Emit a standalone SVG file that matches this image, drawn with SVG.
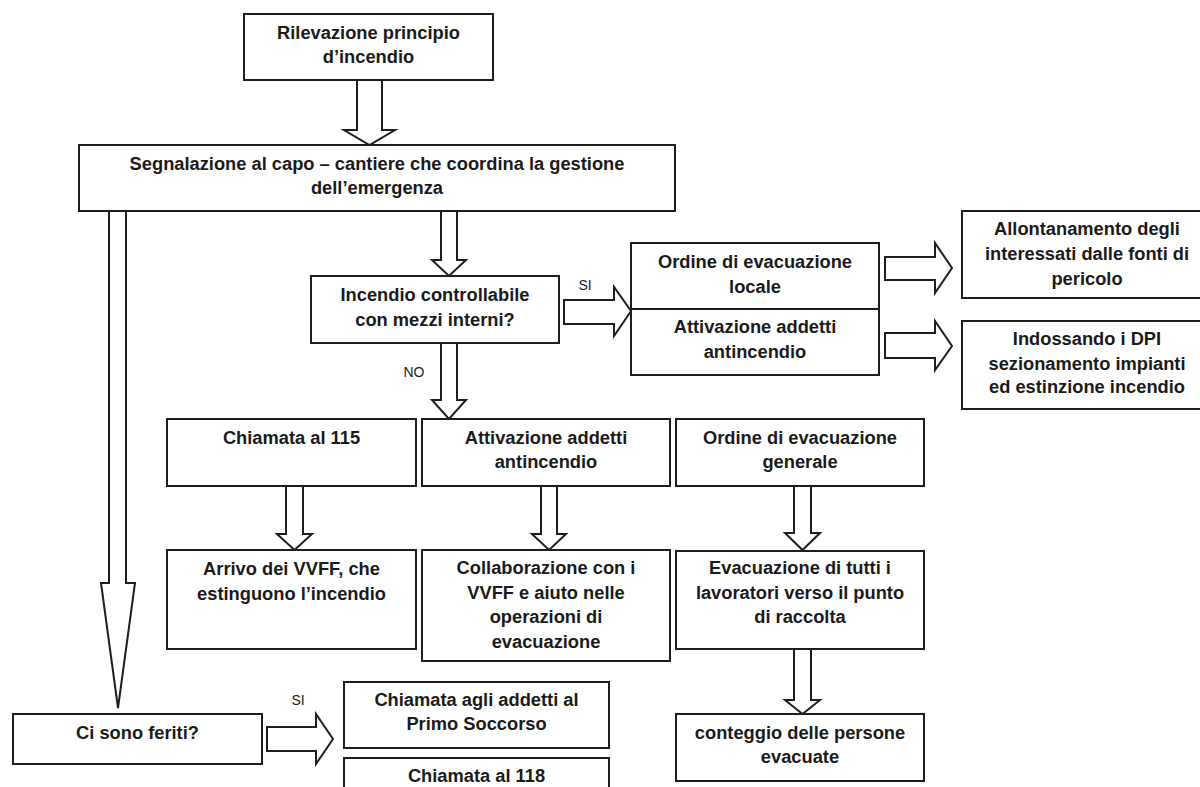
<svg xmlns="http://www.w3.org/2000/svg" width="1200" height="787" viewBox="0 0 1200 787">
<style>
.box{fill:#fff;stroke:#1e1e1e;stroke-width:2}
.arr{fill:#fff;stroke:#1e1e1e;stroke-width:2;stroke-linejoin:miter}
.t{font-family:"Liberation Sans",Arial,sans-serif;font-weight:bold;font-size:18.3px;fill:#1a1a1a;text-anchor:middle}
.lbl{font-family:"Liberation Sans",Arial,sans-serif;font-size:14px;fill:#1a1a1a;text-anchor:middle}
</style>
<rect width="1200" height="787" fill="#fff"/>
<g id="connectors">
<path class="arr" d="M357,80 L357,130 L344,130 L369.5,145 L395,130 L382,130 L382,80 Z"/>
<path class="arr" d="M109,211 L109,583 L101,583 L118,708 L135,583 L126,583 L126,211 Z"/>
<path class="arr" d="M441,211 L441,260 L432,260 L449,276 L466,260 L457,260 L457,211 Z"/>
<path class="arr" d="M441,343 L441,400 L432,400 L449,419 L466,400 L457,400 L457,343 Z"/>
<path class="arr" d="M286,486 L286,534 L277,534 L294.5,550 L312,534 L303,534 L303,486 Z"/>
<path class="arr" d="M541,486 L541,534 L532,534 L549,550 L566,534 L557,534 L557,486 Z"/>
<path class="arr" d="M794,486 L794,533 L785,533 L802.5,550 L820,533 L811,533 L811,486 Z"/>
<path class="arr" d="M794,649 L794,700 L785,700 L802.5,714 L820,700 L811,700 L811,649 Z"/>
<path class="arr" d="M564,300 L614,300 L614,287 L631,311 L614,336 L614,324 L564,324 Z"/>
<path class="arr" d="M885,257 L935,257 L935,243 L952,268 L935,293 L935,280 L885,280 Z"/>
<path class="arr" d="M885,333 L935,333 L935,321 L952,346 L935,370 L935,358 L885,358 Z"/>
<path class="arr" d="M267,727 L316,727 L316,714 L333,739 L316,764 L316,751 L267,751 Z"/>
<text class="lbl" x="585" y="290">SI</text>
<text class="lbl" x="414" y="377">NO</text>
<text class="lbl" x="298" y="705">SI</text>
</g>
<g id="n1">
<rect class="box" x="244" y="14" width="249" height="66"/>
<text class="t" x="368.5" y="39">Rilevazione principio</text>
<text class="t" x="368.5" y="63">d’incendio</text>
</g>
<g id="n2">
<rect class="box" x="79" y="145" width="596" height="66"/>
<text class="t" x="377" y="170">Segnalazione al capo – cantiere che coordina la gestione</text>
<text class="t" x="377" y="194">dell’emergenza</text>
</g>
<g id="n3">
<rect class="box" x="311" y="276" width="248" height="67"/>
<text class="t" x="435" y="301">Incendio controllabile</text>
<text class="t" x="435" y="326">con mezzi interni?</text>
</g>
<g id="n4">
<rect class="box" x="631" y="243" width="248" height="66"/>
<text class="t" x="755" y="268">Ordine di evacuazione</text>
<text class="t" x="755" y="293">locale</text>
</g>
<g id="n5">
<rect class="box" x="631" y="309" width="248" height="66"/>
<text class="t" x="755" y="333">Attivazione addetti</text>
<text class="t" x="755" y="358">antincendio</text>
</g>
<g id="n6">
<rect class="box" x="962" y="211" width="250" height="87"/>
<text class="t" x="1087" y="235">Allontanamento degli</text>
<text class="t" x="1087" y="260">interessati dalle fonti di</text>
<text class="t" x="1087" y="285">pericolo</text>
</g>
<g id="n7">
<rect class="box" x="962" y="321" width="250" height="88"/>
<text class="t" x="1087" y="345">Indossando i DPI</text>
<text class="t" x="1087" y="370">sezionamento impianti</text>
<text class="t" x="1087" y="393">ed estinzione incendio</text>
</g>
<g id="n8">
<rect class="box" x="167" y="419" width="249" height="67"/>
<text class="t" x="291.5" y="444">Chiamata al 115</text>
</g>
<g id="n9">
<rect class="box" x="422" y="419" width="248" height="67"/>
<text class="t" x="546" y="444">Attivazione addetti</text>
<text class="t" x="546" y="468">antincendio</text>
</g>
<g id="n10">
<rect class="box" x="676" y="419" width="248" height="67"/>
<text class="t" x="800" y="444">Ordine di evacuazione</text>
<text class="t" x="800" y="468">generale</text>
</g>
<g id="n11">
<rect class="box" x="167" y="550" width="249" height="99"/>
<text class="t" x="291.5" y="575">Arrivo dei VVFF, che</text>
<text class="t" x="291.5" y="600">estinguono l’incendio</text>
</g>
<g id="n12">
<rect class="box" x="422" y="550" width="248" height="111"/>
<text class="t" x="546" y="574">Collaborazione con i</text>
<text class="t" x="546" y="599">VVFF e aiuto nelle</text>
<text class="t" x="546" y="623">operazioni di</text>
<text class="t" x="546" y="648">evacuazione</text>
</g>
<g id="n13">
<rect class="box" x="676" y="551" width="248" height="98"/>
<text class="t" x="800" y="574">Evacuazione di tutti i</text>
<text class="t" x="800" y="599">lavoratori verso il punto</text>
<text class="t" x="800" y="623">di raccolta</text>
</g>
<g id="n14">
<rect class="box" x="676" y="714" width="248" height="67"/>
<text class="t" x="800" y="739">conteggio delle persone</text>
<text class="t" x="800" y="763">evacuate</text>
</g>
<g id="n15">
<rect class="box" x="13" y="714" width="249" height="50"/>
<text class="t" x="137.5" y="739">Ci sono feriti?</text>
</g>
<g id="n16">
<rect class="box" x="344" y="682" width="265" height="66"/>
<text class="t" x="476.5" y="706">Chiamata agli addetti al</text>
<text class="t" x="476.5" y="730">Primo Soccorso</text>
</g>
<g id="n17">
<rect class="box" x="344" y="758" width="265" height="60"/>
<text class="t" x="476.5" y="782">Chiamata al 118</text>
</g>
</svg>
